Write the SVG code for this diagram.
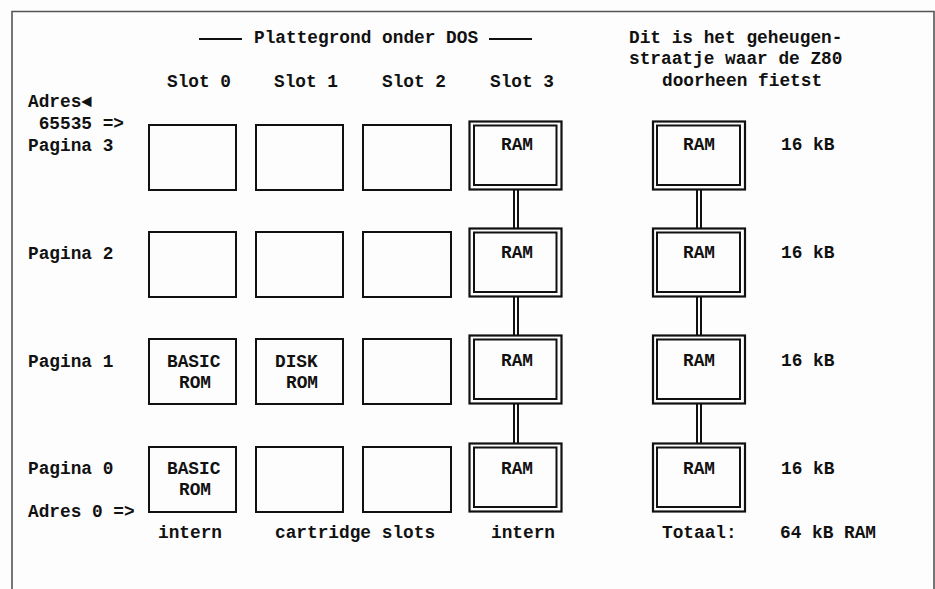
<svg xmlns="http://www.w3.org/2000/svg" width="935" height="589" viewBox="0 0 935 589">
<style>
text{font-family:"Liberation Mono","DejaVu Sans Mono",monospace;font-size:17.8px;font-weight:bold;fill:#111}
.box{fill:none;stroke:#111;stroke-width:2}
.ob{fill:none;stroke:#111;stroke-width:2.2}
.ib{fill:none;stroke:#111;stroke-width:2}
.con line{stroke:#111;stroke-width:2}
.frame{fill:none;stroke:#555;stroke-width:1.6}
</style>
<rect width="935" height="589" fill="#fdfdfd"/>
<path class="frame" d="M12 589 V11.5 H934 V589"/>
<g id="title">
<line x1="199" y1="39" x2="242" y2="39" stroke="#111" stroke-width="2"/>
<text x="254" y="43">Plattegrond onder DOS</text>
<line x1="489" y1="39" x2="532" y2="39" stroke="#111" stroke-width="2"/>
</g>
<g id="note">
<text x="629" y="43">Dit is het geheugen-</text>
<text x="629" y="64">straatje waar de Z80</text>
<text x="662" y="86">doorheen fietst</text>
</g>
<g id="slot-labels">
<text x="167" y="87">Slot 0</text>
<text x="274" y="87">Slot 1</text>
<text x="382" y="87">Slot 2</text>
<text x="490" y="87">Slot 3</text>
</g>
<g id="left-labels">
<text x="28" y="107">Adres◄</text>
<text x="28" y="129" xml:space="preserve"> 65535 =&gt;</text>
<text x="28" y="151">Pagina 3</text>
<text x="28" y="259">Pagina 2</text>
<text x="28" y="367">Pagina 1</text>
<text x="28" y="474">Pagina 0</text>
<text x="28" y="517">Adres 0 =&gt;</text>
</g>
<g id="connectors" class="con">
<line x1="514" y1="189" x2="514" y2="228"/><line x1="518" y1="189" x2="518" y2="228"/>
<line x1="514" y1="296" x2="514" y2="335"/><line x1="518" y1="296" x2="518" y2="335"/>
<line x1="514" y1="403" x2="514" y2="443"/><line x1="518" y1="403" x2="518" y2="443"/>
<line x1="697" y1="189" x2="697" y2="228"/><line x1="701" y1="189" x2="701" y2="228"/>
<line x1="697" y1="296" x2="697" y2="335"/><line x1="701" y1="296" x2="701" y2="335"/>
<line x1="697" y1="403" x2="697" y2="443"/><line x1="701" y1="403" x2="701" y2="443"/>
</g>
<g id="s0p3"><rect class="box" x="149" y="125" width="87" height="65"/></g>
<g id="s1p3"><rect class="box" x="256" y="125" width="87" height="65"/></g>
<g id="s2p3"><rect class="box" x="363" y="125" width="88" height="65"/></g>
<g id="s0p2"><rect class="box" x="149" y="232" width="87" height="65"/></g>
<g id="s1p2"><rect class="box" x="256" y="232" width="87" height="65"/></g>
<g id="s2p2"><rect class="box" x="363" y="232" width="88" height="65"/></g>
<g id="s0p1"><rect class="box" x="149" y="339" width="87" height="65"/><text x="167" y="367">BASIC</text><text x="179" y="388">ROM</text></g>
<g id="s1p1"><rect class="box" x="256" y="339" width="87" height="65"/><text x="275" y="367">DISK</text><text x="286" y="388">ROM</text></g>
<g id="s2p1"><rect class="box" x="363" y="339" width="88" height="65"/></g>
<g id="s0p0"><rect class="box" x="149" y="447" width="87" height="65"/><text x="167" y="474">BASIC</text><text x="179" y="495">ROM</text></g>
<g id="s1p0"><rect class="box" x="256" y="447" width="87" height="65"/></g>
<g id="s2p0"><rect class="box" x="363" y="447" width="88" height="65"/></g>
<g id="s3p3"><rect class="ob" x="469.5" y="121.5" width="92" height="68"/><rect class="ib" x="474" y="125.5" width="82.5" height="59.5"/><text x="501" y="150">RAM</text></g>
<g id="s3p2"><rect class="ob" x="469.5" y="228.5" width="92" height="68"/><rect class="ib" x="474" y="232.5" width="82.5" height="59.5"/><text x="501" y="258">RAM</text></g>
<g id="s3p1"><rect class="ob" x="469.5" y="335.5" width="92" height="68"/><rect class="ib" x="474" y="339.5" width="82.5" height="59.5"/><text x="501" y="366">RAM</text></g>
<g id="s3p0"><rect class="ob" x="469.5" y="443.5" width="92" height="68"/><rect class="ib" x="474" y="447.5" width="82.5" height="59.5"/><text x="501" y="474">RAM</text></g>
<g id="z3"><rect class="ob" x="653" y="121.5" width="92" height="68"/><rect class="ib" x="657" y="125.5" width="83" height="59.5"/><text x="683" y="150">RAM</text></g>
<g id="z2"><rect class="ob" x="653" y="228.5" width="92" height="68"/><rect class="ib" x="657" y="232.5" width="83" height="59.5"/><text x="683" y="258">RAM</text></g>
<g id="z1"><rect class="ob" x="653" y="335.5" width="92" height="68"/><rect class="ib" x="657" y="339.5" width="83" height="59.5"/><text x="683" y="366">RAM</text></g>
<g id="z0"><rect class="ob" x="653" y="443.5" width="92" height="68"/><rect class="ib" x="657" y="447.5" width="83" height="59.5"/><text x="683" y="474">RAM</text></g>
<g id="sizes">
<text x="781" y="150">16 kB</text>
<text x="781" y="258">16 kB</text>
<text x="781" y="366">16 kB</text>
<text x="781" y="474">16 kB</text>
</g>
<g id="bottom-labels">
<text x="158" y="538">intern</text>
<text x="275" y="538">cartridge slots</text>
<text x="491" y="538">intern</text>
<text x="662" y="538">Totaal:</text>
<text x="780" y="538">64 kB RAM</text>
</g>
</svg>
